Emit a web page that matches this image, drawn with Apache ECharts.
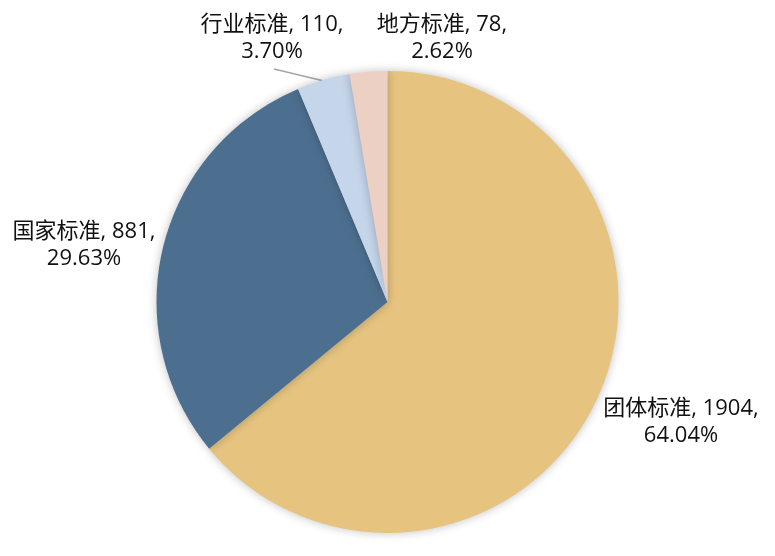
<!DOCTYPE html>
<html>
<head>
<meta charset="utf-8">
<script src="https://cdn.jsdelivr.net/npm/echarts@6/dist/echarts.min.js"></script>
<style>
  html, body { margin: 0; padding: 0; background: #fff; }
  #main { width: 775px; height: 556px; }
</style>
</head>
<body>
<div id="main"></div>
<script>
// 标准类型及数量
var categories = ['团体标准', '国家标准', '行业标准', '地方标准'];
var counts = [1904, 881, 110, 78];
var percents = ['64.04%', '29.63%', '3.70%', '2.62%'];
var colors = ['#E6C480', '#4D6F8F', '#C5D5EA', '#EBD0C3'];

// label centers (x, y)
var labelPos = [[681, 422], [84, 245], [272, 38], [442, 38]];

var chart = echarts.init(document.getElementById('main'));

var pieData = categories.map(function (name, i) {
  return {
    name: name,
    value: counts[i],
    itemStyle: { color: colors[i] },
    labelLine: { show: i === 2 }
  };
});

var option = {
  animation: false,
  series: [
    {
      type: 'pie',
      center: ['50%', '54.3%'],
      radius: 231,
      startAngle: 90,
      clockwise: true,
      data: pieData,
      itemStyle: {
        borderWidth: 0,
        shadowBlur: 10,
        shadowColor: 'rgba(0,0,0,0.25)'
      },
      label: {
        show: true,
        position: 'outside',
        overflow: 'none',
        formatter: function (p) {
          return p.name + ', ' + p.value + ',\n' + percents[p.dataIndex];
        },
        fontFamily: "'Open Sans', 'Noto Sans CJK SC', sans-serif",
        fontSize: 22,
        lineHeight: 27,
        color: '#111',
        align: 'center'
      },
      labelLine: {
        length: 10,
        length2: 0,
        lineStyle: { color: '#a6a6a6', width: 1.5 }
      },
      labelLayout: function (params) {
        var p = labelPos[params.dataIndex];
        var res = {
          x: p[0],
          y: p[1],
          align: 'center',
          verticalAlign: 'middle',
          hideOverlap: false,
          moveOverlap: null
        };
        if (params.dataIndex === 2) {
          res.labelLinePoints = [[324, 81], [274, 69], [274, 69]];
        }
        return res;
      }
    }
  ]
};

chart.setOption(option);
</script>
</body>
</html>
